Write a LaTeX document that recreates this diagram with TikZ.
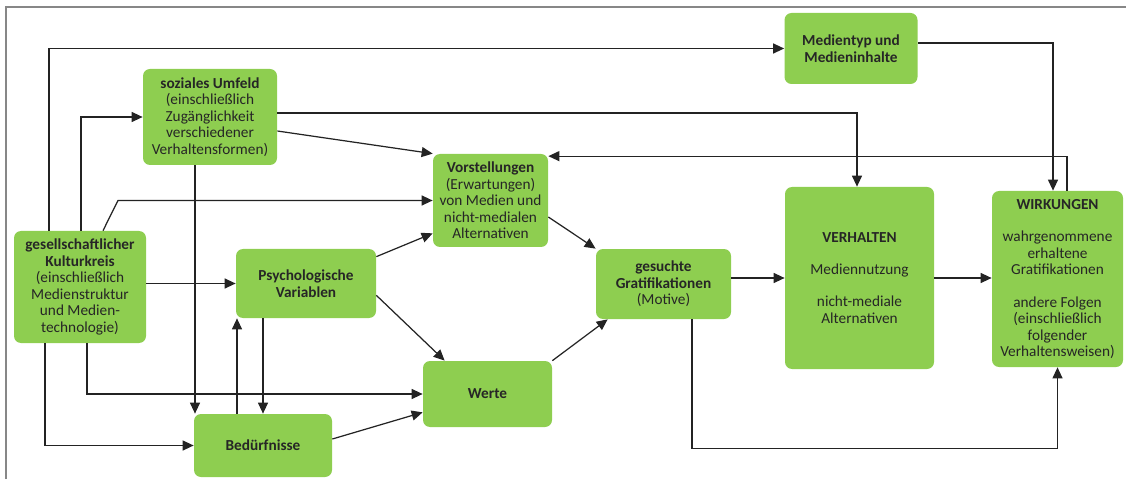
\documentclass[tikz,border=0pt]{standalone}
\usepackage{fontspec}
\setmainfont{Carlito}
\usetikzlibrary{arrows.meta}
\definecolor{boxgreen}{RGB}{142,206,80}
\definecolor{rahmen}{RGB}{135,135,135}
\definecolor{linie}{RGB}{35,35,35}

\begin{document}
\begin{tikzpicture}[auto,
    faktor/.style ={rectangle, rounded corners=1.4mm, fill=boxgreen, text=black!85, align=center, inner sep=2pt, font=\fontsize{8.7}{9.4}\selectfont},
    pfeil/.style ={draw=linie, line width=0.7pt, -{Triangle[length=2.2mm,width=2mm]}}]
   \useasboundingbox (0,0) rectangle (22.52,9.58);
   \draw[rahmen, line width=1.1pt] (0.12,0) -- (0.12,9.44) -- (22.52,9.44);
   \node[faktor, minimum width=2.66cm, minimum height=1.42cm] (medien) at (17.02,8.61) {\textbf{Medientyp und}\\\textbf{Medieninhalte}};
   \node[faktor, minimum width=2.68cm, minimum height=1.92cm] (umfeld) at (4.20,7.24) {\textbf{soziales Umfeld}\\(einschließlich\\Zugänglichkeit\\verschiedener\\Verhaltensformen)};
   \node[faktor, minimum width=2.30cm, minimum height=1.86cm] (vorst) at (9.81,5.57) {\textbf{Vorstellungen}\\(Erwartungen)\\von Medien und\\nicht-medialen\\Alternativen};
   \node[faktor, minimum width=2.64cm, minimum height=2.24cm] (kultur) at (1.60,3.84) {\textbf{gesellschaftlicher}\\\textbf{Kulturkreis}\\(einschließlich\\Medienstruktur\\und Medien-\\technologie)};
   \node[faktor, minimum width=2.80cm, minimum height=1.38cm] (psych) at (6.12,3.91) {\textbf{Psychologische}\\\textbf{Variablen}};
   \node[faktor, minimum width=2.76cm, minimum height=1.26cm] (beduerf) at (5.26,0.67) {\textbf{Bedürfnisse}};
   \node[faktor, minimum width=2.58cm, minimum height=1.32cm] (werte) at (9.75,1.70) {\textbf{Werte}};
   \node[faktor, minimum width=2.70cm, minimum height=1.40cm] (gesucht) at (13.27,3.90) {\textbf{gesuchte}\\\textbf{Gratifikationen}\\(Motive)};
   \node[faktor, minimum width=2.98cm, minimum height=3.64cm] (verh) at (17.19,4.02) {\textbf{VERHALTEN}\\[9pt]Mediennutzung\\[9pt]nicht-mediale\\Alternativen};
   \node[faktor, minimum width=2.62cm, minimum height=3.52cm] (wirk) at (21.15,4.00) {\textbf{WIRKUNGEN}\\[9pt]wahrgenommene\\erhaltene\\Gratifikationen\\[9pt]andere Folgen\\(einschließlich\\folgender\\Verhaltensweisen)};
   \coordinate (knick) at (2.36,5.57);
   \draw[pfeil] ([xshift=-6.2mm]kultur.north) |- (medien.west);
   \draw[pfeil] ([xshift=0.2mm]kultur.north) |- (umfeld.west);
   \draw[pfeil] ([xshift=4.6mm]kultur.north) -- (knick) -- (vorst.west);
   \draw[pfeil] (kultur.east |- psych.west) -- (psych.west);
   \draw[pfeil] ([xshift=-7mm]kultur.south) |- (beduerf.west);
   \draw[pfeil] ([xshift=1.4mm]kultur.south) |- (werte.west);
   \draw[pfeil] ([yshift=0.8mm]umfeld.east) -| ([xshift=-0.5mm]verh.north);
   \draw[pfeil] ([yshift=-2.8mm]umfeld.east) -- (vorst.north west);
   \draw[pfeil] ([xshift=-3mm]umfeld.south) -- ([xshift=-3mm]umfeld.south |- beduerf.north);
   \draw[pfeil] ([yshift=1.1mm]medien.east) -| ([xshift=-0.9mm]wirk.north);
   \draw[pfeil] ([xshift=1.9mm]wirk.north) |- ([yshift=-0.5mm]vorst.north east);
   \draw[pfeil] ([xshift=-5.2mm]beduerf.north) -- ([xshift=-5.2mm]beduerf.north |- psych.south);
   \draw[pfeil] ([xshift=-8.6mm]psych.south) -- ([xshift=-8.6mm]psych.south |- beduerf.north);
   \draw[pfeil] ([yshift=-1.6mm]psych.north east) -- ([yshift=2.8mm]vorst.south west);
   \draw[pfeil] ([yshift=4.6mm]psych.south east) -- ([xshift=4.4mm]werte.north west);
   \draw[pfeil] ([yshift=1.3mm]beduerf.east) -- ([yshift=3mm]werte.south west);
   \draw[pfeil] ([yshift=-3.3mm]vorst.east) -- (gesucht.north west);
   \draw[pfeil] (werte.north east) -- ([xshift=2.4mm]gesucht.south west);
   \draw[pfeil] (gesucht.east |- verh.west) -- (verh.west);
   \draw[pfeil] ([xshift=5.7mm]gesucht.south) |- ([yshift=-16.2mm]wirk.south) -- (wirk.south);
   \draw[pfeil] (verh.east) -- (verh.east -| wirk.west);
\end{tikzpicture}
\end{document}
